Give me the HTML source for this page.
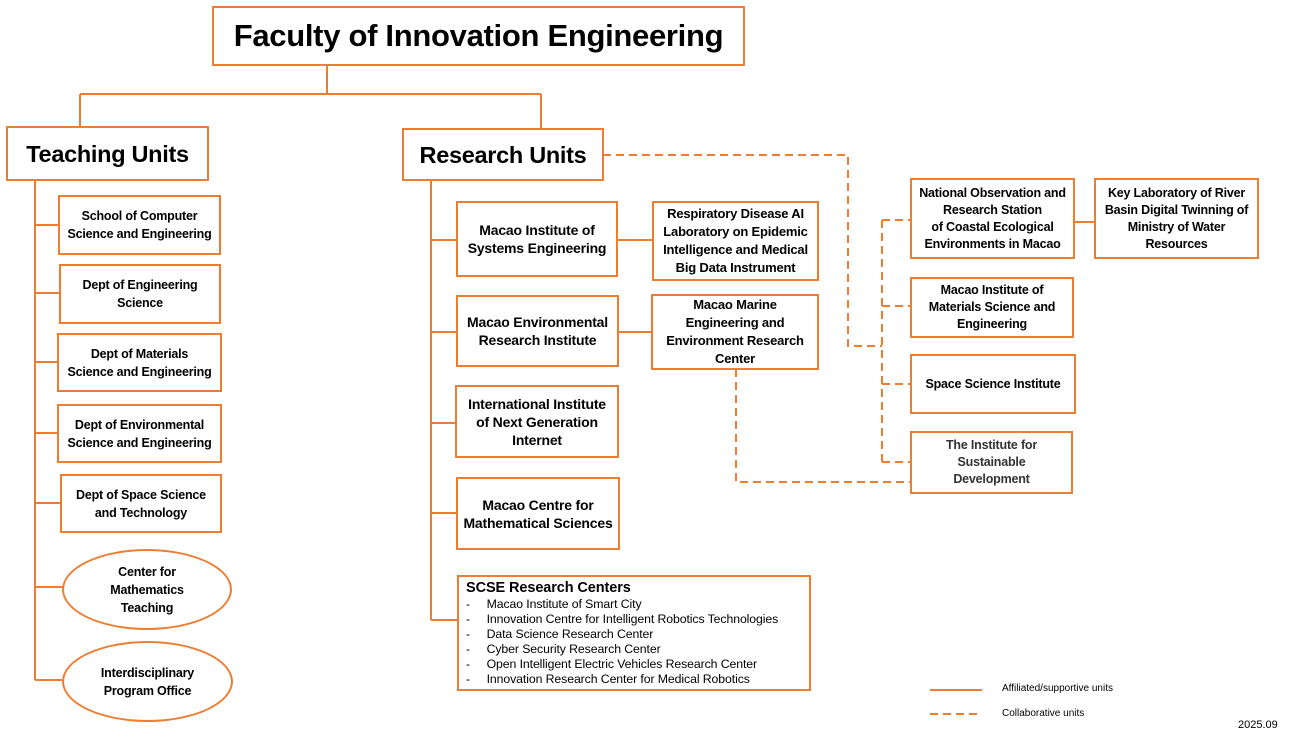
<!DOCTYPE html>
<html><head><meta charset="utf-8"><style>
body{margin:0;width:1289px;height:738px;background:#fff;position:relative;overflow:hidden;font-family:"Liberation Sans",sans-serif;color:#000}
.b{position:absolute;box-sizing:border-box;border:2px solid #ED7D31;display:flex;align-items:center;justify-content:center;text-align:center;font-weight:bold;font-size:12.5px;line-height:18px;letter-spacing:-0.2px;background:#fff}
.e{border-radius:50%}
svg{position:absolute;left:0;top:0}
.t{position:absolute;font-size:10px}
</style></head><body>
<svg width="1289" height="738">
<g stroke="#ED7D31" stroke-width="2" fill="none">
<path d="M327 65V94M80 94H541M80 94V126M541 94V128"/>
<path d="M35 180V680M35 225H58M35 293H59M35 362H57M35 433H57M35 503H60M35 587H64M35 680H62"/>
<path d="M431 180V620M431 240H456M431 332H456M431 423H455M431 513H456M431 620H457"/>
<path d="M617 240H652M618 332H651M1074 222H1094"/>
<path d="M930 690H982"/>
</g>
<g stroke="#ED7D31" stroke-width="2" fill="none" stroke-dasharray="8,5">
<path d="M603 155H848V346H882"/>
<path d="M882 220V463M882 220H910M882 306H910M882 384H910M882 462H910"/>
<path d="M736 369V482H910"/>
<path d="M930 714H982"/>
</g>
</svg>
<div class="b" style="left:212px;top:6px;width:533px;height:60px;font-size:31px;letter-spacing:-0.3px">Faculty of Innovation Engineering</div>
<div class="b" style="left:6px;top:126px;width:203px;height:55px;font-size:23.5px;letter-spacing:-0.3px">Teaching Units</div>
<div class="b" style="left:402px;top:128px;width:202px;height:53px;font-size:23.5px;letter-spacing:-0.3px">Research Units</div>

<div class="b" style="left:58px;top:195px;width:163px;height:60px">School of Computer<br>Science and Engineering</div>
<div class="b" style="left:59px;top:264px;width:162px;height:60px">Dept of Engineering<br>Science</div>
<div class="b" style="left:57px;top:333px;width:165px;height:59px">Dept of Materials<br>Science and Engineering</div>
<div class="b" style="left:57px;top:404px;width:165px;height:59px">Dept of Environmental<br>Science and Engineering</div>
<div class="b" style="left:60px;top:474px;width:162px;height:59px">Dept of Space Science<br>and Technology</div>
<div class="b e" style="left:62px;top:549px;width:170px;height:81px">Center for<br>Mathematics<br>Teaching</div>
<div class="b e" style="left:62px;top:641px;width:171px;height:81px">Interdisciplinary<br>Program Office</div>

<div class="b" style="left:456px;top:201px;width:162px;height:76px;font-size:14px">Macao Institute of<br>Systems Engineering</div>
<div class="b" style="left:456px;top:295px;width:163px;height:72px;font-size:14px">Macao Environmental<br>Research Institute</div>
<div class="b" style="left:455px;top:385px;width:164px;height:73px;font-size:14px">International Institute<br>of Next Generation<br>Internet</div>
<div class="b" style="left:456px;top:477px;width:164px;height:73px;font-size:14px">Macao Centre for<br>Mathematical Sciences</div>
<div class="b" style="left:652px;top:201px;width:167px;height:80px;font-size:13px">Respiratory Disease AI<br>Laboratory on Epidemic<br>Intelligence and Medical<br>Big Data Instrument</div>
<div class="b" style="left:651px;top:294px;width:168px;height:76px;font-size:13px">Macao Marine<br>Engineering and<br>Environment Research<br>Center</div>
<div class="b" style="left:457px;top:575px;width:354px;height:116px;display:block;text-align:left;padding:2px 0 0 7px;font-weight:normal;font-size:12.3px;line-height:15px;letter-spacing:-0.1px">
<div style="font-weight:bold;font-size:14.5px;line-height:18px">SCSE Research Centers</div>
<div>-&nbsp;&nbsp;&nbsp;&nbsp;&nbsp;Macao Institute of Smart City</div>
<div>-&nbsp;&nbsp;&nbsp;&nbsp;&nbsp;Innovation Centre for Intelligent Robotics Technologies</div>
<div>-&nbsp;&nbsp;&nbsp;&nbsp;&nbsp;Data Science Research Center</div>
<div>-&nbsp;&nbsp;&nbsp;&nbsp;&nbsp;Cyber Security Research Center</div>
<div>-&nbsp;&nbsp;&nbsp;&nbsp;&nbsp;Open Intelligent Electric Vehicles Research Center</div>
<div>-&nbsp;&nbsp;&nbsp;&nbsp;&nbsp;Innovation Research Center for Medical Robotics</div>
</div>

<div class="b" style="left:910px;top:178px;width:165px;height:81px;font-size:12.5px;line-height:17px">National Observation and<br>Research Station<br>of Coastal Ecological<br>Environments in Macao</div>
<div class="b" style="left:1094px;top:178px;width:165px;height:81px;font-size:12.5px;line-height:17px">Key Laboratory of River<br>Basin Digital Twinning of<br>Ministry of Water<br>Resources</div>
<div class="b" style="left:910px;top:277px;width:164px;height:61px;font-size:12.5px;line-height:17px">Macao Institute of<br>Materials Science and<br>Engineering</div>
<div class="b" style="left:910px;top:354px;width:166px;height:60px;font-size:12.5px">Space Science Institute</div>
<div class="b" style="left:910px;top:431px;width:163px;height:63px;font-size:12.5px;line-height:17px;color:#333">The Institute for<br>Sustainable<br>Development</div>

<div class="t" style="left:1002px;top:683px">Affiliated/supportive units</div>
<div class="t" style="left:1002px;top:708px">Collaborative units</div>
<div class="t" style="left:1238px;top:719px;font-size:11px">2025.09</div>
</body></html>
